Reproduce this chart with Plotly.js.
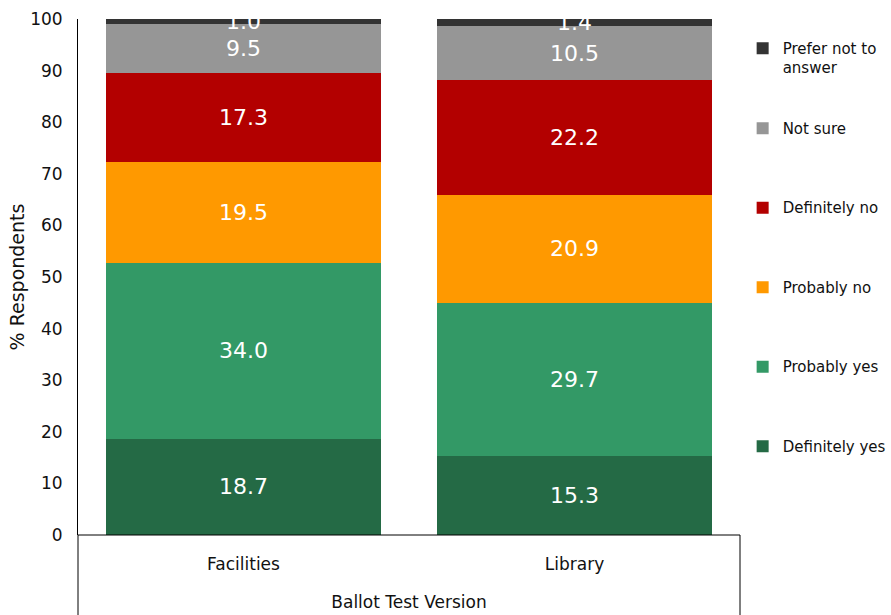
<!DOCTYPE html>
<html>
<head>
<meta charset="utf-8">
<script src="https://cdn.plot.ly/plotly-3.0.1.min.js"></script>
<style>
  html, body { margin: 0; padding: 0; background: #ffffff; }
  #chart { width: 891px; height: 615px; }
</style>
</head>
<body>
<div id="chart"></div>
<script>
// Ballot test versions on the x axis
const categories = ["Facilities", "Library"];

// Response shares (% of respondents), stacked bottom to top
const definitelyYes = [18.7, 15.3];
const probablyYes   = [34.0, 29.7];
const probablyNo    = [19.5, 20.9];
const definitelyNo  = [17.3, 22.2];
const notSure       = [9.5, 10.5];
const preferNot     = [1.0, 1.4];

const seriesNames = [
  "Definitely yes", "Probably yes", "Probably no",
  "Definitely no", "Not sure", "Prefer not to<br>answer"
];
const seriesValues = [definitelyYes, probablyYes, probablyNo, definitelyNo, notSure, preferNot];
const seriesColors = ["#246a45", "#339966", "#ff9900", "#b30000", "#969696", "#333333"];

const FONT = "DejaVu Sans, Verdana, sans-serif";
const last = seriesValues.length - 1;

const traces = seriesValues.map((vals, i) => ({
  type: "bar",
  name: seriesNames[i],
  x: categories,
  y: vals,
  text: vals.map(v => v.toFixed(1)),
  textposition: "inside",
  insidetextanchor: "middle",
  textangle: 0,
  constraintext: "none",
  cliponaxis: true,
  textfont: { family: FONT, size: 22, color: "#ffffff" },
  marker: { color: seriesColors[i], line: { width: 0 } },
  legendgroup: "g" + i,
  // the two-line entry sits in its own legend box at the top
  legend: i === last ? "legend2" : "legend",
  // top of the stack is listed first
  legendrank: seriesValues.length - i,
  hoverinfo: "skip"
}));

const legendBase = {
  x: 1.004, xanchor: "left",
  yanchor: "top",
  traceorder: "grouped",
  tracegroupgap: 57,
  valign: "top",
  font: { family: FONT, size: 15, color: "#111111" },
  bgcolor: "rgba(0,0,0,0)"
};

const layout = {
  width: 891,
  height: 615,
  margin: { l: 78, r: 151, t: 19, b: 80, autoexpand: false },
  paper_bgcolor: "#ffffff",
  plot_bgcolor: "#ffffff",
  barmode: "stack",
  bargap: 0.17,
  font: { family: FONT, color: "#111111" },
  showlegend: true,
  legend: Object.assign({}, legendBase, { y: 0.82 }),
  legend2: Object.assign({}, legendBase, { y: 0.975 }),
  xaxis: {
    type: "category",
    showline: false,
    showgrid: false,
    zeroline: false,
    ticks: "",
    ticklabelstandoff: 17,
    tickfont: { family: FONT, size: 17, color: "#111111" },
    title: {
      text: "Ballot Test Version",
      font: { family: FONT, size: 17, color: "#111111" },
      standoff: 23
    }
  },
  yaxis: {
    range: [0, 100],
    dtick: 10,
    showgrid: false,
    zeroline: false,
    showline: true,
    linecolor: "#000000",
    linewidth: 1,
    ticks: "",
    ticklabelstandoff: 11,
    tickfont: { family: FONT, size: 17, color: "#111111" },
    title: {
      text: "% Respondents",
      font: { family: FONT, size: 19, color: "#111111" },
      standoff: 0
    }
  },
  shapes: [
    // category box beneath the bars
    { type: "line", xref: "paper", yref: "paper", x0: 0, x1: 1, y0: 0, y1: 0,
      line: { color: "#000000", width: 1 } },
    { type: "line", xref: "paper", yref: "paper", x0: 0, x1: 0, y0: 0, y1: -0.16,
      line: { color: "#000000", width: 1 } },
    { type: "line", xref: "paper", yref: "paper", x0: 1, x1: 1, y0: 0, y1: -0.16,
      line: { color: "#000000", width: 1 } }
  ]
};

Plotly.newPlot("chart", traces, layout, { displayModeBar: false, staticPlot: true });
</script>
</body>
</html>
